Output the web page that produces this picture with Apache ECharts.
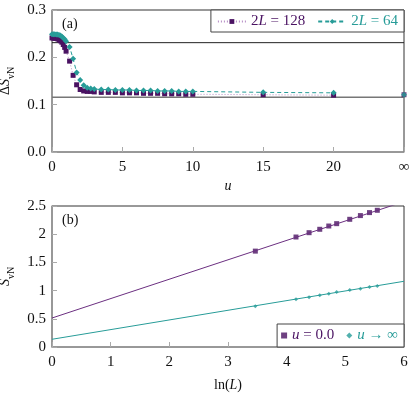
<!DOCTYPE html>
<html>
<head>
<meta charset="utf-8">
<script src="https://cdn.jsdelivr.net/npm/echarts@6/dist/echarts.min.js"></script>
<style>
  html, body { margin: 0; padding: 0; background: #fff; }
  #chart { width: 416px; height: 398px; }
</style>
</head>
<body>
<div id="chart"></div>
<script>
// (a) u values, the last one (25) stands for u = infinity
const uValues = [0, 0.1, 0.2, 0.3, 0.4, 0.5, 0.6, 0.7, 0.8, 0.9, 1.0,
  1.25, 1.5, 1.75, 2.0, 2.25, 2.5, 2.75, 3.0,
  3.5, 4, 4.5, 5, 5.5, 6, 6.5, 7, 7.5, 8, 8.5, 9, 9.5, 10, 15, 20];
const uInf = 25;
const dS128 = [0.241, 0.241, 0.240, 0.240, 0.239, 0.237, 0.235, 0.232, 0.227, 0.221, 0.213,
  0.192, 0.162, 0.142, 0.132, 0.129, 0.128, 0.128, 0.127,
  0.126, 0.126, 0.126, 0.125, 0.125, 0.125, 0.124, 0.124, 0.124, 0.123, 0.123, 0.123, 0.122, 0.122, 0.121, 0.120];
const dS64 = [0.249, 0.249, 0.249, 0.248, 0.248, 0.247, 0.246, 0.244, 0.241, 0.238, 0.234,
  0.222, 0.197, 0.168, 0.152, 0.141, 0.136, 0.134, 0.133,
  0.132, 0.132, 0.131, 0.131, 0.131, 0.130, 0.130, 0.130, 0.129, 0.129, 0.129, 0.128, 0.128, 0.128, 0.126, 0.125];
const dS128Inf = 0.121;
const dS64Inf = 0.121;
const refLevels = [0.231, 0.1155];

// (b) ln(L) against S_vN
const lnL = [3.466, 4.159, 4.382, 4.564, 4.718, 4.852, 5.075, 5.257, 5.412, 5.545];
const sU0 = [1.70, 1.95, 2.027, 2.087, 2.145, 2.187, 2.264, 2.33, 2.383, 2.424];
const sUInf = [0.721, 0.846, 0.881, 0.917, 0.946, 0.975, 1.01, 1.035, 1.064, 1.082];
const fitU0 = [[0, 0.514], [6, 2.578]];
const fitUInf = [[0, 0.137], [6, 1.165]];

const purple = '#4a1262';
const purpleLight = '#b58cc4';
const purpleLine = '#6b2f80';
const teal = '#279c98';
const font = 'Liberation Serif';

const pair = (xs, ys) => xs.map((x, i) => [x, ys[i]]);

const chart = echarts.init(document.getElementById('chart'));

const tickStyle = { show: true, inside: true, length: 5, lineStyle: { color: '#aaa' } };
const axisLine = { show: true, lineStyle: { color: '#999', width: 1.5 } };
// tick labels go through rich text so the serif face is surely used
const tickRich = { t: { fontFamily: font, fontSize: 15, color: '#111' } };
const tick = s => '{t|' + s + '}';

chart.setOption({
  animation: false,
  textStyle: { fontFamily: font },
  grid: [
    { left: 52, right: 12, top: 10, height: 142, show: true, borderColor: '#333', borderWidth: 1,
      containLabel: false, outerBoundsMode: 'none' },
    { left: 52, right: 12, top: 206, height: 141, show: true, borderColor: '#333', borderWidth: 1,
      containLabel: false, outerBoundsMode: 'none' }
  ],
  xAxis: [
    {
      gridIndex: 0, type: 'value', min: 0, max: 25, interval: 5,
      axisLine, axisTick: tickStyle, splitLine: { show: false },
      axisLabel: { margin: 8, rich: tickRich, formatter: v => tick(v === 25 ? '∞' : String(v)) },
      name: 'u', nameLocation: 'middle', nameGap: 27,
      nameTextStyle: { fontFamily: font, fontSize: 14, fontStyle: 'italic', color: '#111' }
    },
    {
      gridIndex: 1, type: 'value', min: 0, max: 6, interval: 1,
      axisLine, axisTick: tickStyle, splitLine: { show: false },
      axisLabel: { margin: 8, rich: tickRich, formatter: v => tick(String(v)) },
      name: '{n|ln(}{i|L}{n|)}', nameLocation: 'middle', nameGap: 31,
      nameTextStyle: {
        rich: {
          n: { fontFamily: font, fontSize: 14, color: '#111' },
          i: { fontFamily: font, fontSize: 14, fontStyle: 'italic', color: '#111' }
        }
      }
    }
  ],
  yAxis: [
    {
      gridIndex: 0, type: 'value', min: 0, max: 0.3, interval: 0.1,
      axisLine, axisTick: tickStyle, splitLine: { show: false },
      axisLabel: { margin: 6, rich: tickRich, formatter: v => tick(v.toFixed(1)) },
      name: '{n|Δ}{i|S}{s|vN}', nameLocation: 'middle', nameGap: 35, nameRotate: 90,
      nameTextStyle: {
        rich: {
          n: { fontFamily: font, fontSize: 14, color: '#111', lineHeight: 18, verticalAlign: 'top' },
          i: { fontFamily: font, fontSize: 14, fontStyle: 'italic', color: '#111', lineHeight: 18, verticalAlign: 'top' },
          s: { fontFamily: font, fontSize: 10, color: '#111', lineHeight: 18, verticalAlign: 'bottom' }
        }
      }
    },
    {
      gridIndex: 1, type: 'value', min: 0, max: 2.5, interval: 0.5,
      axisLine, axisTick: tickStyle, splitLine: { show: false },
      axisLabel: { margin: 6, rich: tickRich, formatter: v => tick(String(v)) },
      name: '{i|S}{s|vN}', nameLocation: 'middle', nameGap: 35, nameRotate: 90,
      nameTextStyle: {
        rich: {
          i: { fontFamily: font, fontSize: 14, fontStyle: 'italic', color: '#111', lineHeight: 18, verticalAlign: 'top' },
          s: { fontFamily: font, fontSize: 10, color: '#111', lineHeight: 18, verticalAlign: 'bottom' }
        }
      }
    }
  ],
  legend: [
    {
      right: 12, top: 10, orient: 'horizontal',
      backgroundColor: '#fff', borderColor: '#444', borderWidth: 1,
      padding: [4, 6, 3, 6], itemGap: 12, itemWidth: 28, itemHeight: 6,
      data: [
        { name: '2L128', textStyle: { color: purple } },
        { name: '2L64', textStyle: { color: teal } }
      ],
      formatter: n => (n === '2L128' ? '{a|2}{i|L}{a| = 128}' : '{b|2}{j|L}{b| = 64}'),
      textStyle: {
        rich: {
          a: { fontFamily: font, fontSize: 15, color: purple },
          i: { fontFamily: font, fontSize: 15, fontStyle: 'italic', color: purple },
          b: { fontFamily: font, fontSize: 15, color: teal },
          j: { fontFamily: font, fontSize: 15, fontStyle: 'italic', color: teal }
        }
      }
    },
    {
      right: 12, bottom: 51, orient: 'horizontal',
      backgroundColor: '#fff', borderColor: '#444', borderWidth: 1,
      padding: [4, 6, 4, 4], itemGap: 12, itemWidth: 6, itemHeight: 6,
      data: ['u0', 'uinf'],
      formatter: n => (n === 'u0' ? '{i|u}{a| = 0.0}' : '{j|u}{b| → ∞}'),
      textStyle: {
        rich: {
          a: { fontFamily: font, fontSize: 15, color: purple },
          i: { fontFamily: font, fontSize: 15, fontStyle: 'italic', color: purple },
          b: { fontFamily: font, fontSize: 15, color: teal },
          j: { fontFamily: font, fontSize: 15, fontStyle: 'italic', color: teal }
        }
      }
    }
  ],
  graphic: [
    { type: 'text', left: 62, top: 17, style: { text: '(a)', font: '14px "Liberation Serif"', fill: '#111' } },
    { type: 'text', left: 62, top: 213, style: { text: '(b)', font: '14px "Liberation Serif"', fill: '#111' } }
  ],
  series: [
    // reference levels
    ...refLevels.map((v, k) => ({
      type: 'line', xAxisIndex: 0, yAxisIndex: 0, symbol: 'none', silent: true,
      data: [[0, v], [25, v]],
      lineStyle: { color: k === 0 ? '#222' : '#777', width: k === 0 ? 1 : 1.5 },
      z: 1
    })),
    {
      name: '2L64', type: 'line', xAxisIndex: 0, yAxisIndex: 0,
      data: pair(uValues, dS64),
      symbol: 'diamond', symbolSize: 6,
      itemStyle: { color: teal },
      lineStyle: { color: teal, width: 1, type: [4, 3] },
      z: 3
    },
    {
      name: '2L128', type: 'line', xAxisIndex: 0, yAxisIndex: 0,
      data: pair(uValues, dS128),
      symbol: 'rect', symbolSize: 5,
      itemStyle: { color: purple },
      lineStyle: { color: purpleLight, width: 1, type: [1, 2] },
      z: 2
    },
    {
      type: 'scatter', xAxisIndex: 0, yAxisIndex: 0,
      data: [[uInf, dS128Inf]], symbol: 'rect', symbolSize: 5,
      itemStyle: { color: purple }, z: 2
    },
    {
      type: 'scatter', xAxisIndex: 0, yAxisIndex: 0,
      data: [[uInf, dS64Inf]], symbol: 'diamond', symbolSize: 6,
      itemStyle: { color: teal }, z: 3
    },
    // (b) fits
    {
      type: 'line', xAxisIndex: 1, yAxisIndex: 1, symbol: 'none', clip: true, silent: true,
      data: fitU0, lineStyle: { color: purpleLine, width: 1 }
    },
    {
      type: 'line', xAxisIndex: 1, yAxisIndex: 1, symbol: 'none', clip: true, silent: true,
      data: fitUInf, lineStyle: { color: teal, width: 1 }
    },
    {
      name: 'u0', type: 'scatter', xAxisIndex: 1, yAxisIndex: 1,
      data: pair(lnL, sU0), symbol: 'rect', symbolSize: 5,
      itemStyle: { color: purple }
    },
    {
      name: 'uinf', type: 'scatter', xAxisIndex: 1, yAxisIndex: 1,
      data: pair(lnL, sUInf), symbol: 'diamond', symbolSize: 4,
      itemStyle: { color: teal }
    }
  ]
});
</script>
</body>
</html>
